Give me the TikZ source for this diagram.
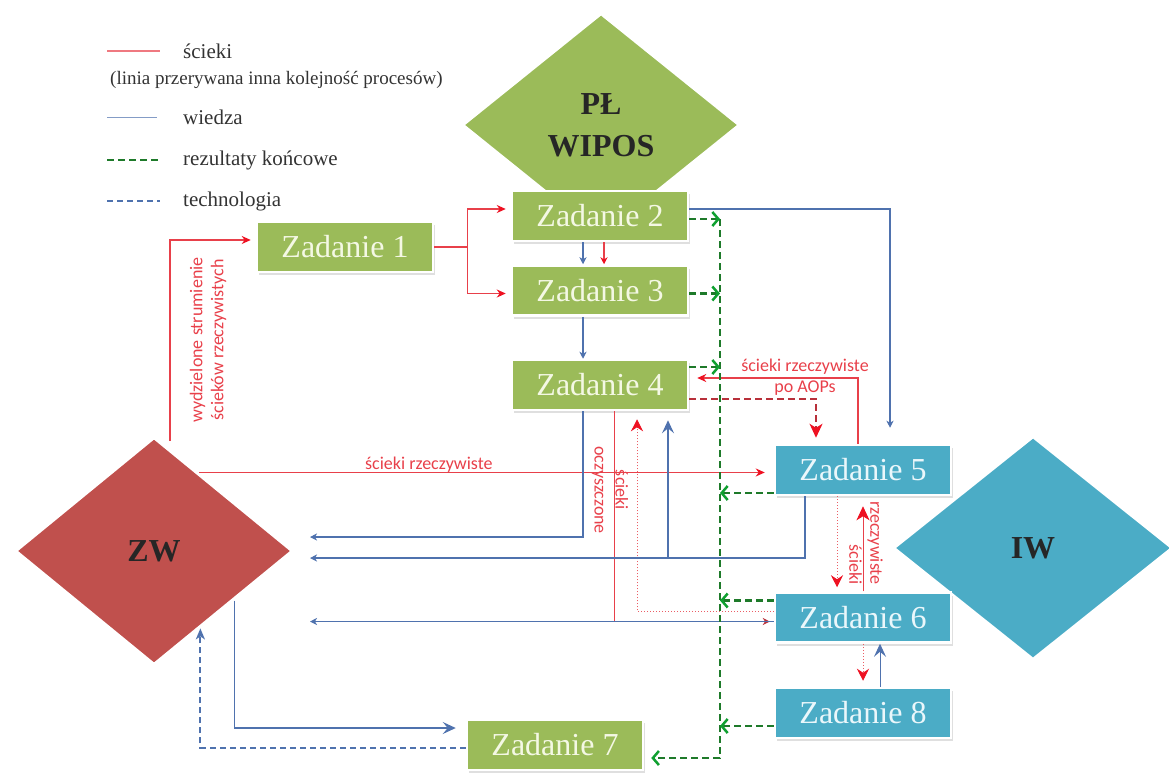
\documentclass[tikz,border=0pt]{standalone}
\usepackage{fontspec}
\setmainfont{Liberation Serif}
\newfontfamily\calibfont{Carlito}
\usetikzlibrary{arrows.meta,shapes.geometric,shadows,calc,positioning}

\definecolor{zielony}{HTML}{9BBB59}
\definecolor{niebieski}{HTML}{4BACC6}
\definecolor{czerwony}{HTML}{C0504D}
\definecolor{sciekred}{HTML}{E8404A}
\definecolor{ciemnyred}{HTML}{B8303A}
\definecolor{grotred}{HTML}{EE1122}
\definecolor{wiedzablue}{HTML}{4F72AE}
\definecolor{wynikgreen}{HTML}{1E7A2A}
\definecolor{grotgreen}{HTML}{0FA030}
\definecolor{jasnyziel}{HTML}{F4F8E4}
\definecolor{jasnynieb}{HTML}{EAF7FB}

\begin{document}
\begin{tikzpicture}[
  x=1pt, y=-1pt,
  zadanie/.style={rectangle, text centered, draw=white, line width=2.5pt, fill=zielony,
    minimum width=176pt, minimum height=50pt, text=jasnyziel,
    font=\fontsize{32}{36}\selectfont,
    drop shadow={shadow xshift=2pt, shadow yshift=-3pt, opacity=.25}},
  zadanie_iw/.style={zadanie, fill=niebieski, text=jasnynieb},
  romb/.style={diamond, draw=white, line width=3pt, inner sep=0pt, align=center,
    font=\bfseries\fontsize{32}{42}\selectfont, text=black!85},
  legenda/.style={anchor=west, inner sep=0pt, text=black!80, font=\fontsize{21}{24}\selectfont},
  opis/.style={font=\calibfont\fontsize{18}{21}\selectfont, text=sciekred, align=center, inner sep=1pt},
  scieki/.style={draw=sciekred, line width=1.5pt, -{Stealth[length=9pt,width=8pt,color=grotred]}},
  scieki_duzy/.style={scieki, -{Stealth[length=14pt,width=13pt,inset=4pt,color=grotred]}},
  scieki_kropki/.style={draw=sciekred!85, line width=.9pt, dash pattern=on 1pt off 2pt,
    -{Stealth[length=12pt,width=12pt,inset=4pt,color=grotred]}},
  wiedza/.style={draw=wiedzablue, line width=1.1pt, -{Stealth[length=7pt,width=7pt,inset=2pt]}},
  wiedza_duzy/.style={wiedza, -{Stealth[length=13pt,width=12pt,inset=5pt]}},
  technologia/.style={draw=wiedzablue, line width=2pt, dash pattern=on 6pt off 4pt,
    -{Stealth[length=11pt,width=9pt,inset=3pt]}},
  wynik/.style={draw=wynikgreen, line width=2.5pt, dash pattern=on 7pt off 4pt,
    -{Straight Barb[length=6pt,width=14pt,color=grotgreen]}}
  ]
\useasboundingbox (0,0) rectangle (1169,774);

% legenda
\draw [draw=sciekred!70, line width=1.2pt] (107,51) -- (160,51);
\node [legenda] (lscieki) at (183,51) {ścieki};
\node [legenda, font=\fontsize{19}{22}\selectfont] (lprzer) at (110,80) {(linia przerywana inna kolejność procesów)};
\draw [draw=wiedzablue!70, line width=1pt] (107,117) -- (157,117);
\node [legenda] (lwiedza) at (183,117) {wiedza};
\draw [wynik, -] (107,160) -- (160,160);
\node [legenda] (lwynik) at (183,160) {rezultaty końcowe};
\draw [technologia, -] (107,201) -- (160,201);
\node [legenda] (ltech) at (183,201) {technologia};

% romby
\node [romb, fill=zielony, minimum width=278pt, minimum height=224pt] (plw) at (601,125) {PŁ\\WIPOS};
\node [romb, fill=czerwony, minimum width=278pt, minimum height=228pt] (zw) at (154,551) {ZW};
\node [romb, fill=niebieski, minimum width=280pt, minimum height=224pt] (iw) at (1033,548) {IW};

% zadania
\node [zadanie] (z1) at (345,247) {Zadanie 1};
\node [zadanie] (z2) at (600,216) {Zadanie 2};
\node [zadanie, below=22pt of z2] (z3) {Zadanie 3};
\node [zadanie, below=42pt of z3] (z4) {Zadanie 4};
\node [zadanie_iw] (z5) at (863,470) {Zadanie 5};
\node [zadanie_iw, below=95pt of z5] (z6) {Zadanie 6};
\node [zadanie_iw, below=43pt of z6] (z8) {Zadanie 8};
\node [zadanie] (z7) at (555,745) {Zadanie 7};

% scieki
\draw [scieki, shorten >=5pt] ([xshift=16pt,yshift=-5pt]zw.north) |- ([yshift=7pt]z1.west);
\node [opis, rotate=90] (lwydz) at (208,340) {wydzielone strumienie\\ścieków rzeczywistych};
\draw [scieki, shorten >=5pt] (z1.east) -- ++(33,0) |- ([yshift=7pt]z2.west);
\draw [scieki, shorten >=5pt] (z1.east) -- ++(33,0) |- ([yshift=-3pt]z3.west);
\draw [scieki, -{Stealth[length=7pt,width=7pt,color=grotred]}] ([xshift=4pt]z2.south) -- ([xshift=4pt]z3.north);

\coordinate (zwout) at ($(zw.north)!0.32!(zw.east)$);
\draw [scieki, shorten >=9pt] (zwout) -- (zwout -| z5.west)
  node [opis, pos=0.4, above=-2pt] (lrz) {ścieki rzeczywiste};
\draw [scieki, shorten >=8pt] ([xshift=-5pt]z5.north) |- ([yshift=7pt]z4.east);
\node [opis] (laop) at (805,377) {ścieki rzeczywiste\\po AOPs};
\draw [scieki_duzy, draw=ciemnyred, dash pattern=on 7pt off 4pt, shorten >=6pt]
  ([yshift=-14pt]z4.east) -| ([xshift=-47pt]z5.north);

\draw [scieki, line width=1pt, -{Stealth[length=7pt,width=7pt,color=ciemnyred]}, shorten >=4pt]
  ([xshift=14pt]z4.south) |- ([yshift=-4pt]z6.west);
\node [opis, rotate=-90] (locz) at (610,490) {ścieki\\oczyszczone};
\draw [scieki_kropki, shorten >=8pt] ([yshift=6pt]z6.west) -| ([xshift=37pt]z4.south);

\draw [scieki_kropki, shorten >=4pt] ([xshift=-26pt]z5.south) -- ([xshift=-26pt]z6.north);
\draw [scieki_duzy, line width=.8pt, shorten >=10pt] (z6.north) -- (z5.south);
\node [opis, rotate=-90, align=right] (lrz2) at (866,543) {rzeczywiste\\ścieki};
\draw [scieki_kropki, shorten >=6pt] (z6.south) -- (z8.north);

% wiedza
\draw [wiedza] ([xshift=-17pt]z2.south) -- ([xshift=-17pt]z3.north);
\draw [wiedza] ([xshift=-17pt]z3.south) -- ([xshift=-17pt]z4.north);
\draw [wiedza, shorten >=16pt] ([yshift=7pt]z2.east) -| ([xshift=27pt]z5.north);
\coordinate (zwa) at (310,537);
\coordinate (zwb) at (310,558);
\draw [wiedza] ([xshift=-17pt]z4.south) |- (zwa);
\draw [wiedza] ([xshift=-58pt]z5.south) |- (zwb);
\coordinate (z4b) at ([xshift=68pt]z4.south);
\draw [wiedza_duzy, shorten >=9pt] (z4b |- zwb) -- (z4b);
\draw [wiedza] ([yshift=-4pt]z6.west) -- ([yshift=-4pt]z6.west -| zwa);
\draw [wiedza_duzy, line width=1pt] ([xshift=17pt]z8.north) -- ([xshift=17pt]z6.south);
\coordinate (zwdol) at ($(zw.east)!0.43!(zw.south)$);
\draw [wiedza_duzy, shorten >=10pt] (zwdol) |- ([yshift=17pt]z7.west);
\coordinate (zwdol2) at ($(zw.east)!0.67!(zw.south)$);
\draw [technologia] ([yshift=-3pt]z7.west) -| (zwdol2);

% rezultaty koncowe
\coordinate (gt) at (720,219);
\coordinate (gb) at (720,758);
\draw [wynik, shorten >=7pt] (gt) -- (gb) -- (gb -| z7.east);
\draw [wynik] ([yshift=-3pt]z2.east) -- ([yshift=-3pt]z2.east -| gt);
\draw [wynik] ([yshift=-3pt]z3.east) -- ([yshift=-3pt]z3.east -| gt);
\draw [wynik] ([yshift=18pt]z4.east) -- ([yshift=18pt]z4.east -| gt);
\draw [wynik] ([yshift=-23pt]z5.west) -- ([yshift=-23pt]z5.west -| gt);
\draw [wynik] ([yshift=17pt]z6.west) -- ([yshift=17pt]z6.west -| gt);
\draw [wynik] ([yshift=-13pt]z8.west) -- ([yshift=-13pt]z8.west -| gt);
\end{tikzpicture}
\end{document}
